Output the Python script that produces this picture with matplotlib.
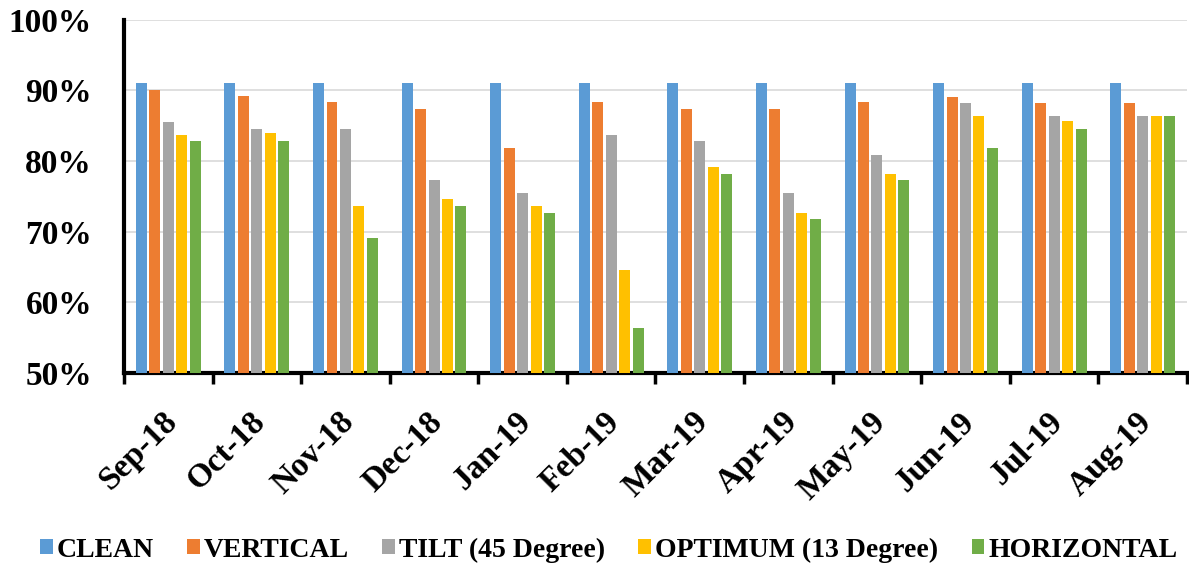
import matplotlib
matplotlib.use("Agg")
import matplotlib.pyplot as plt
import matplotlib.transforms as mtransforms
import numpy as np
from matplotlib.ticker import FuncFormatter, FixedLocator

months = ["Sep-18", "Oct-18", "Nov-18", "Dec-18", "Jan-19", "Feb-19",
          "Mar-19", "Apr-19", "May-19", "Jun-19", "Jul-19", "Aug-19"]

clean      = [91.0, 91.0, 91.0, 91.0, 91.0, 91.0, 91.0, 91.0, 91.0, 91.0, 91.0, 91.0]
vertical   = [90.1, 89.2, 88.3, 87.3, 81.8, 88.3, 87.3, 87.3, 88.3, 89.1, 88.2, 88.2]
tilt45     = [85.5, 84.6, 84.6, 77.3, 75.5, 83.7, 82.8, 75.5, 80.9, 88.2, 86.4, 86.4]
optimum13  = [83.7, 83.9, 73.7, 74.6, 73.7, 64.5, 79.1, 72.7, 78.2, 86.4, 85.6, 86.4]
horizontal = [82.8, 82.8, 69.1, 73.7, 72.7, 56.4, 78.2, 71.8, 77.3, 81.8, 84.6, 86.4]

series = [
    ("CLEAN", clean, "#5B9BD5"),
    ("VERTICAL", vertical, "#ED7D31"),
    ("TILT (45 Degree)", tilt45, "#A5A5A5"),
    ("OPTIMUM (13 Degree)", optimum13, "#FFC000"),
    ("HORIZONTAL", horizontal, "#70AD47"),
]

plt.rcParams["font.family"] = ["Liberation Serif", "DejaVu Serif"]
plt.rcParams["font.weight"] = "bold"

fig = plt.figure(figsize=(11.89, 5.65), dpi=100)
ax = fig.add_axes([0.1043, 0.340, 0.8940, 0.625])

x = np.arange(len(months))
step = 0.152
width = 0.124
for i, (name, vals, color) in enumerate(series):
    ax.bar(x + (i - 2) * step, vals, width=width, color=color, label=name, zorder=3)

ax.set_xlim(-0.5, len(months) - 0.5)
ax.set_ylim(50, 100)
ax.set_yticks(np.arange(50, 101, 10))
ax.yaxis.set_major_formatter(FuncFormatter(lambda v, p: f"{v:.0f}%"))
ax.grid(axis="y", color="#D9D9D9", linewidth=1.2, zorder=0)

ax.set_xticks(x)
ax.set_xticklabels(months, rotation=45, ha="right", rotation_mode="anchor",
                   fontsize=24, fontweight="bold")
ax.tick_params(axis="x", which="major", length=0, pad=24)
shift = mtransforms.ScaledTranslation(-7 / 100, 0, fig.dpi_scale_trans)
for lbl in ax.get_xticklabels():
    lbl.set_transform(lbl.get_transform() + shift)
ax.xaxis.set_minor_locator(FixedLocator(np.arange(-0.5, len(months) + 0.5, 1)))
ax.tick_params(axis="x", which="minor", length=8, width=2.5, color="black",
               direction="out")
ax.tick_params(axis="y", length=0, pad=23, labelsize=24)
for lbl in ax.get_yticklabels():
    lbl.set_fontweight("bold")

for s in ["top", "right"]:
    ax.spines[s].set_visible(False)
ax.spines["left"].set_linewidth(3)
ax.spines["bottom"].set_linewidth(3)

fig.legend(loc="lower center", bbox_to_anchor=(0.512, -0.040), ncol=5,
           frameon=False, handlelength=0.45, handleheight=0.45,
           handletextpad=0.15, columnspacing=1.2,
           prop={"weight": "bold", "size": 20})

fig.savefig("out.png", dpi=100)
